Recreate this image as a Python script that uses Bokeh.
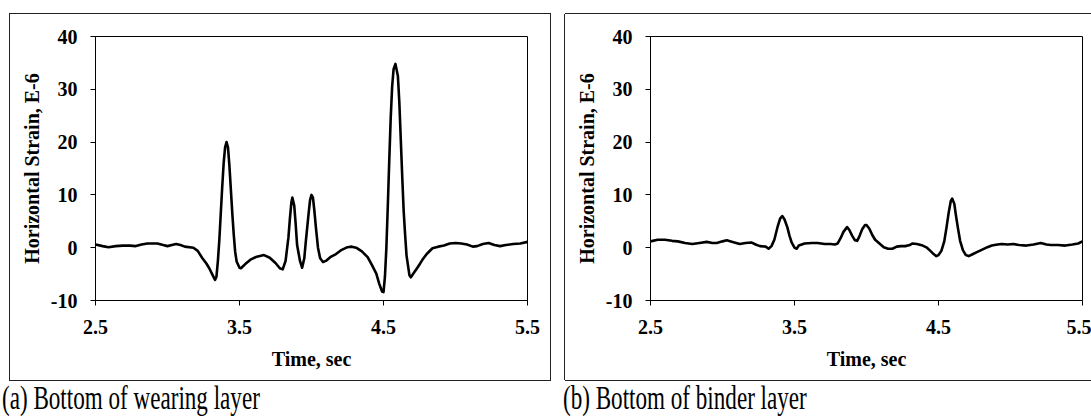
from bokeh.plotting import figure
from bokeh.layouts import row, column
from bokeh.models import FixedTicker, Div, Range1d, CustomJSTickFormatter
from bokeh.embed import file_html
from bokeh.resources import INLINE

# ---- data ----
time_a = [2.50, 2.55, 2.59, 2.64, 2.69, 2.74, 2.78, 2.82, 2.86, 2.93, 2.97, 3.00, 3.03, 3.06, 3.09,
          3.12, 3.18, 3.21, 3.24, 3.27, 3.29, 3.31, 3.33, 3.34, 3.35, 3.36, 3.37, 3.38, 3.39, 3.40,
          3.41, 3.42, 3.43, 3.44, 3.45, 3.46, 3.47, 3.48, 3.50, 3.51, 3.54, 3.58, 3.62, 3.67, 3.71,
          3.75, 3.78, 3.80, 3.82, 3.84, 3.85, 3.86, 3.867, 3.88, 3.89, 3.90, 3.92, 3.935, 3.95, 3.96,
          3.98, 3.99, 4.00, 4.01, 4.02, 4.03, 4.045, 4.06, 4.08, 4.10, 4.13, 4.17, 4.21, 4.25, 4.28,
          4.31, 4.35, 4.39, 4.42, 4.45, 4.47, 4.49, 4.50, 4.51, 4.52, 4.53, 4.54, 4.55, 4.56, 4.57,
          4.583, 4.60, 4.61, 4.62, 4.63, 4.64, 4.65, 4.66, 4.68, 4.69, 4.71, 4.74, 4.77, 4.80, 4.84,
          4.88, 4.92, 4.96, 5.00, 5.04, 5.08, 5.12, 5.15, 5.19, 5.23, 5.27, 5.31, 5.35, 5.40, 5.45,
          5.50]
strain_a = [0.6, 0.3, 0.1, 0.3, 0.4, 0.4, 0.3, 0.6, 0.8, 0.8, 0.5, 0.3, 0.5, 0.7, 0.5,
            0.2, 0.0, -0.6, -1.9, -3.0, -3.9, -5.0, -6.1, -5.5, -2.5, 1.5, 6.5, 11.5, 16.0, 19.0,
            20.0, 19.0, 15.5, 11.0, 6.5, 2.5, -0.8, -2.6, -3.8, -3.9, -3.1, -2.2, -1.7, -1.4, -1.9,
            -2.9, -3.9, -4.1, -2.5, 2.0, 5.5, 8.5, 9.5, 8.0, 4.5, 0.5, -2.5, -3.8, -2.0, 1.0,
            6.5, 9.0, 10.0, 9.5, 7.0, 4.0, 0.0, -2.0, -2.7, -2.5, -1.8, -1.2, -0.4, 0.1, 0.2,
            0.0, -0.7, -1.8, -3.3, -4.9, -6.8, -8.3, -8.4, -5.5, 0.0, 8.0, 16.5, 24.5, 30.5, 33.8,
            34.8, 32.5, 27.5, 20.5, 13.5, 7.0, 2.5, -1.5, -5.2, -5.6, -4.8, -3.6, -2.3, -1.2, -0.1,
            0.2, 0.4, 0.8, 0.9, 0.8, 0.6, 0.2, 0.3, 0.7, 0.9, 0.5, 0.3, 0.5, 0.7, 0.8,
            1.1]

time_b = [2.50, 2.55, 2.60, 2.65, 2.69, 2.74, 2.79, 2.84, 2.89, 2.93, 2.96, 3.00, 3.03, 3.07, 3.12,
          3.16, 3.20, 3.23, 3.26, 3.30, 3.32, 3.34, 3.36, 3.37, 3.385, 3.40, 3.415, 3.43, 3.45, 3.465,
          3.48, 3.50, 3.515, 3.53, 3.57, 3.62, 3.66, 3.71, 3.75, 3.78, 3.80, 3.82, 3.84, 3.865, 3.88,
          3.90, 3.92, 3.935, 3.95, 3.97, 3.99, 4.00, 4.02, 4.04, 4.06, 4.09, 4.12, 4.15, 4.18, 4.21,
          4.24, 4.27, 4.30, 4.32, 4.35, 4.39, 4.42, 4.44, 4.47, 4.485, 4.50, 4.52, 4.54, 4.555, 4.57,
          4.585, 4.595, 4.61, 4.62, 4.635, 4.65, 4.67, 4.69, 4.71, 4.74, 4.77, 4.80, 4.84, 4.87, 4.91,
          4.94, 4.98, 5.02, 5.06, 5.11, 5.16, 5.21, 5.25, 5.28, 5.33, 5.38, 5.43, 5.47, 5.50]
strain_b = [1.2, 1.5, 1.5, 1.3, 1.2, 0.9, 0.7, 0.9, 1.1, 0.9, 0.9, 1.2, 1.4, 1.1, 0.7,
            0.9, 1.0, 0.6, 0.3, 0.2, -0.2, 0.3, 1.5, 2.6, 4.2, 5.5, 6.0, 5.4, 3.9, 2.3,
            1.0, 0.0, -0.2, 0.4, 0.8, 0.9, 0.9, 0.7, 0.7, 0.6, 0.8, 1.8, 3.0, 3.9, 3.4,
            2.3, 1.4, 1.3, 2.1, 3.5, 4.3, 4.3, 3.6, 2.4, 1.5, 0.8, 0.1, -0.2, -0.2, 0.2,
            0.3, 0.3, 0.5, 0.8, 0.7, 0.4, 0.0, -0.5, -1.3, -1.6, -1.4, -0.6, 1.2, 3.7, 6.5,
            8.8, 9.3, 8.3, 6.3, 3.7, 1.3, -0.5, -1.4, -1.6, -1.2, -0.8, -0.4, 0.1, 0.4, 0.6,
            0.7, 0.6, 0.7, 0.5, 0.4, 0.6, 0.9, 0.6, 0.5, 0.5, 0.4, 0.6, 0.8, 1.2]

x_ticks = [2.5, 3.5, 4.5, 5.5]
y_ticks = [-10, 0, 10, 20, 30, 40]
x_label = "Time, sec"
y_label = "Horizontal Strain, E-6"
captions = ["(a) Bottom of wearing layer", "(b) Bottom of binder layer"]

FONT = "Times New Roman"


def make_panel(t, s, width, border_right, shadow):
    p = figure(width=width, height=366, output_backend="svg", toolbar_location=None,
               x_range=Range1d(2.5, 5.5), y_range=Range1d(-10, 40),
               min_border_left=85, min_border_right=border_right,
               min_border_top=22, min_border_bottom=80)
    p.line(t, s, line_color="black", line_width=2.6, line_join="round")
    p.grid.visible = False
    p.outline_line_color = "black"
    p.outline_line_width = 1
    p.background_fill_color = "white"
    p.border_fill_color = "white"
    for ax, ticks, label in ((p.xaxis[0], x_ticks, x_label), (p.yaxis[0], y_ticks, y_label)):
        ax.ticker = FixedTicker(ticks=ticks)
        ax.formatter = CustomJSTickFormatter(code="return tick.toString();")
        ax.minor_tick_line_color = None
        ax.major_tick_in = 0
        ax.major_tick_out = 5
        ax.major_tick_line_color = "black"
        ax.axis_line_color = "black"
        ax.major_label_text_font = FONT
        ax.major_label_text_font_style = "bold"
        ax.major_label_text_font_size = "20px"
        ax.major_label_text_color = "black"
        ax.axis_label = label
        ax.axis_label_text_font = FONT
        ax.axis_label_text_font_style = "bold"
        ax.axis_label_text_font_size = "20px"
        ax.axis_label_text_color = "black"
    p.xaxis[0].major_label_standoff = 14
    p.xaxis[0].axis_label_standoff = 11
    p.yaxis[0].major_label_standoff = 13
    p.yaxis[0].axis_label_standoff = 5
    p.styles = {"box-shadow": shadow}
    return p


p1 = make_panel(time_a, strain_a, 540, 23, "0 0 0 1px #222")
p1.margin = (14, 0, 0, 10)
p2 = make_panel(time_b, strain_b, 526, 9, "-1px 0 0 0 #222, 0 -1px 0 0 #222, 0 1px 0 0 #222")
p2.margin = (14, 0, 0, 15)

cap_style = ("font-family:'Liberation Serif';font-size:33px;line-height:33px;white-space:nowrap;"
             "color:#000;transform:scaleX(0.7);transform-origin:0 0;margin-top:2px")
d1 = Div(text=f'<div style="{cap_style}">{captions[0]}</div>', width=561, height=36, margin=(0, 0, 0, 2))
d2 = Div(text=f'<div style="{cap_style}">{captions[1]}</div>', width=500, height=36, margin=(0, 0, 0, 0))

layout = column(row(p1, p2, spacing=0), row(d1, d2, spacing=0), spacing=0)

open("out.html", "w").write(file_html(layout, INLINE))
